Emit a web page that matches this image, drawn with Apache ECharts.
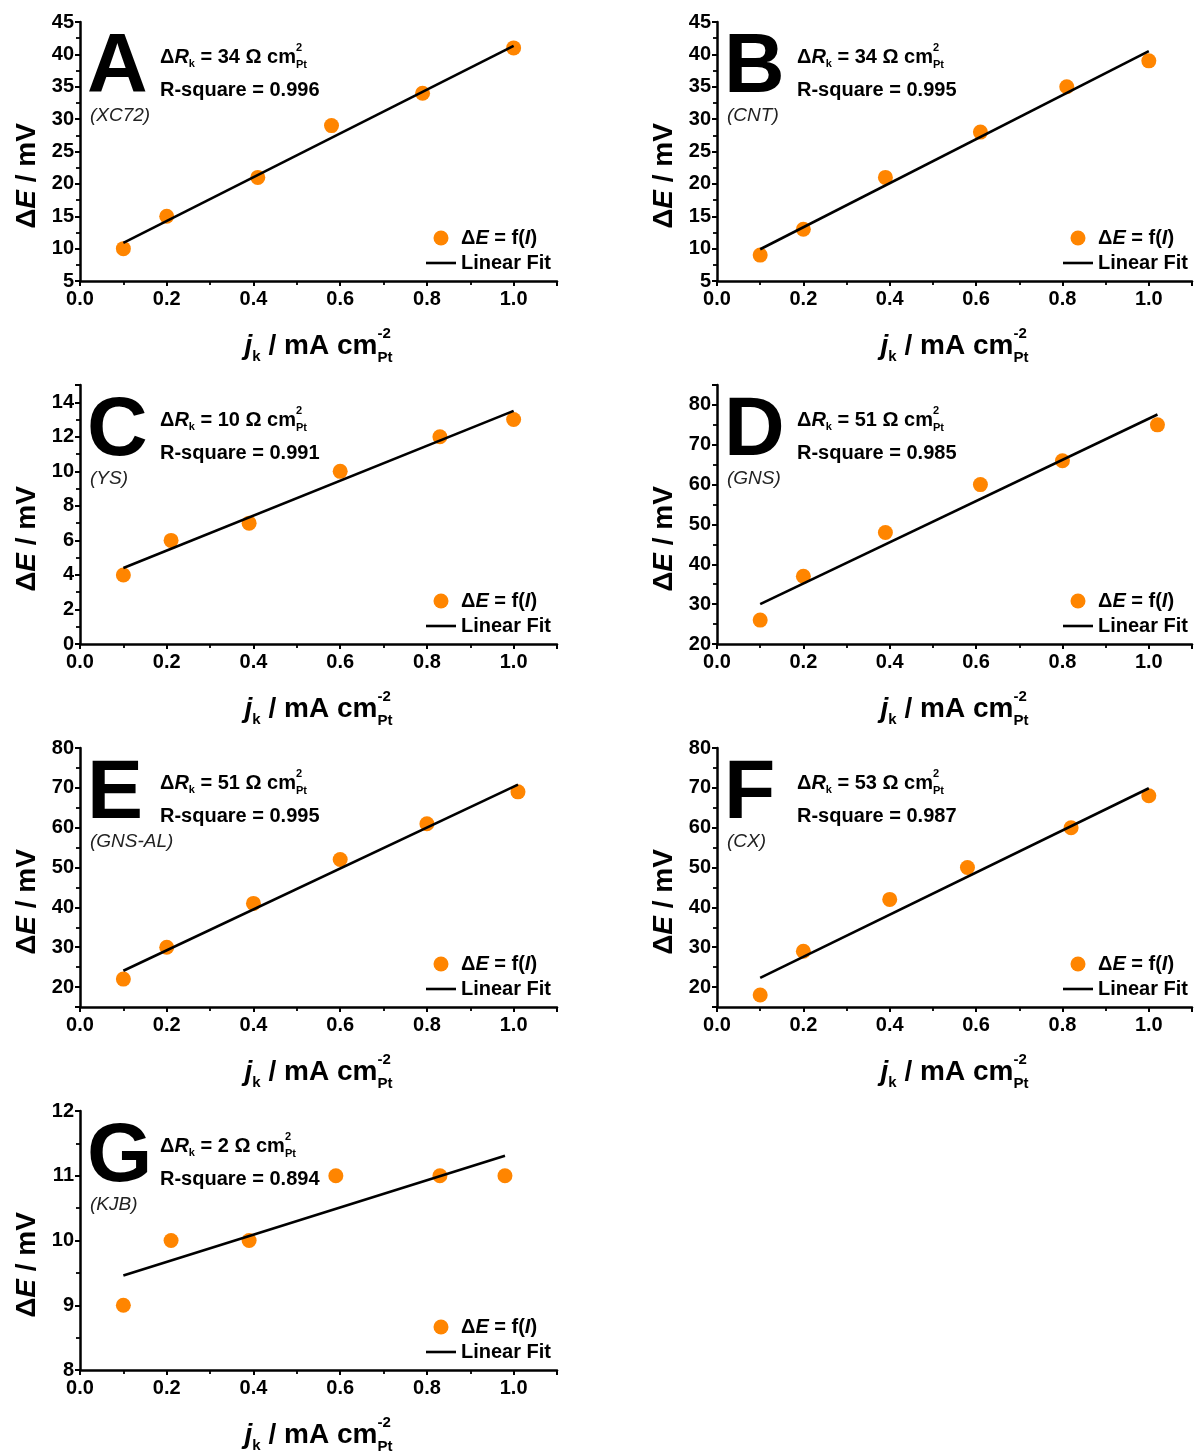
<!DOCTYPE html>
<html><head><meta charset="utf-8">
<script src="https://cdn.jsdelivr.net/npm/echarts@6/dist/echarts.min.js"></script>
<style>html,body{margin:0;padding:0;background:#fff}#c{width:1195px;height:1454px}</style>
</head><body><div id="c"></div>
<script>
// ---------------- data ----------------
const panelLetters = ['A','B','C','D','E','F','G'];
const sampleNames = ['(XC72)','(CNT)','(YS)','(GNS)','(GNS-AL)','(CX)','(KJB)'];
const deltaRk = ['34','34','10','51','51','53','2'];
const rSquare = ['0.996','0.995','0.991','0.985','0.995','0.987','0.894'];

const jkA = [0.1,0.2,0.41,0.58,0.79,1.0];  const dEA = [10,15,21,29,34,41];
const jkB = [0.1,0.2,0.39,0.61,0.81,1.0];  const dEB = [9,13,21,28,35,39];
const jkC = [0.1,0.21,0.39,0.6,0.83,1.0];  const dEC = [4,6,7,10,12,13];
const jkD = [0.1,0.2,0.39,0.61,0.8,1.02];  const dED = [26,37,48,60,66,75];
const jkE = [0.1,0.2,0.4,0.6,0.8,1.01];    const dEE = [22,30,41,52,61,69];
const jkF = [0.1,0.2,0.4,0.58,0.82,1.0];   const dEF = [18,29,42,50,60,68];
const jkG = [0.1,0.21,0.39,0.59,0.83,0.98]; const dEG = [9,10,10,11,11,11];

const fitA = [[0.1,10.9],[1.0,41.3]];
const fitB = [[0.1,9.9],[1.0,40.5]];
const fitC = [[0.1,4.4],[1.0,13.5]];
const fitD = [[0.1,30.0],[1.02,77.6]];
const fitE = [[0.1,24.1],[1.01,70.8]];
const fitF = [[0.1,22.3],[1.0,69.9]];
const fitG = [[0.1,9.46],[0.98,11.31]];

const yMin  = [5,5,0,20,15,15,8];
const yMax  = [45,45,15,85,80,80,12];
const yStep = [5,5,2,10,10,10,1];
const xMin = 0, xMax = 1.1, xStep = 0.2;

const jkAll = [jkA,jkB,jkC,jkD,jkE,jkF,jkG];
const dEAll = [dEA,dEB,dEC,dED,dEE,dEF,dEG];
const fitAll = [fitA,fitB,fitC,fitD,fitE,fitF,fitG];

// ---------------- layout ----------------
const colX = [80, 717], colW = [477, 475];
const rowTop = [22, 385, 748, 1111], gridH = 259;
const FAM = '"Liberation Sans", Arial, Helvetica, sans-serif';
const ORANGE = '#ff8500';

const mctx = document.createElement('canvas').getContext('2d');
function fstr(p){ return (p.italic?'italic ':'') + (p.bold===false?'':'bold ') + p.size + 'px ' + FAM; }
function measure(p){ mctx.font = fstr(p); return mctx.measureText(p.t).width; }
function richLine(x, y, parts, center){
  let total = 0;
  parts.forEach(p => { const items = p.stack || [p]; total += Math.max(...items.map(measure)); });
  let cx = center ? x - total/2 : x;
  const els = [];
  parts.forEach(p => {
    const items = p.stack || [p];
    let adv = 0;
    items.forEach(it => {
      els.push({type:'text', x: cx, y: y + (it.dy||0), z: 100, silent: true,
        style:{text: it.t, fontSize: it.size, fontWeight: it.bold===false?'normal':'bold',
          fontStyle: it.italic?'italic':'normal', fontFamily: FAM, fill:'#000',
          align:'left', verticalAlign:'middle'}});
      adv = Math.max(adv, measure(it));
    });
    cx += adv;
  });
  return els;
}

const grids = [], xAxes = [], yAxes = [], series = [], legends = [], graphics = [];
const richLegend = {
  b:{fontSize:20, fontWeight:'bold', fontFamily:FAM, color:'#000'},
  bi:{fontSize:20, fontWeight:'bold', fontStyle:'italic', fontFamily:FAM, color:'#000'}
};

panelLetters.forEach((L, i) => {
  const row = Math.floor(i/2), col = i % 2;
  const x0 = colX[col], w = colW[col], top = rowTop[row];
  grids.push({left: x0, top: top, width: w, height: gridH, containLabel: false});
  xAxes.push({
    type:'value', gridIndex:i, min:xMin, max:xMax, interval:xStep,
    axisLine:{show:true, onZero:false, lineStyle:{color:'#000', width:2.5}},
    axisTick:{show:true, length:5, lineStyle:{color:'#000', width:2}},
    minorTick:{show:true, splitNumber:2, length:4, lineStyle:{color:'#000', width:1.8}},
    splitLine:{show:false},
    axisLabel:{margin:8, fontSize:20, fontWeight:'bold', fontFamily:FAM, color:'#000',
      showMaxLabel:false,
      formatter: v => (Math.abs(v/xStep - Math.round(v/xStep)) < 1e-6) ? v.toFixed(1) : ''}
  });
  const ya = {
    type:'value', gridIndex:i, min:yMin[i], max:yMax[i],
    axisLine:{show:true, onZero:false, lineStyle:{color:'#000', width:2.5}},
    axisTick:{show:true, length:5, lineStyle:{color:'#000', width:2}},
    minorTick:{show:true, splitNumber:2, length:4, lineStyle:{color:'#000', width:1.8}},
    splitLine:{show:false},
    axisLabel:{margin:6, fontSize:20, fontWeight:'bold', fontFamily:FAM, color:'#000',
      formatter: v => (Math.abs(v/yStep[i] - Math.round(v/yStep[i])) < 1e-6) ? String(Math.round(v)) : ''}
  };
  if (yMin[i] % yStep[i] === 0) ya.interval = yStep[i]; else ya.splitNumber = 6;
  yAxes.push(ya);

  series.push({
    name:'pts'+i, type:'scatter', xAxisIndex:i, yAxisIndex:i, z:2,
    symbol:'circle', symbolSize:15, itemStyle:{color:ORANGE, opacity:1},
    data: jkAll[i].map((x,k) => [x, dEAll[i][k]])
  });
  series.push({
    name:'fit'+i, type:'line', xAxisIndex:i, yAxisIndex:i, z:3,
    symbol:'none', showSymbol:false, lineStyle:{color:'#000', width:2.6}, itemStyle:{color:'#000'},
    data: fitAll[i]
  });
  legends.push({
    orient:'vertical', left: x0 + 341, top: top + 201, itemWidth:30, itemHeight:15, itemGap:5,
    selectedMode:false,
    data:[{name:'pts'+i, icon:'circle', itemStyle:{color:ORANGE, opacity:1}},
          {name:'fit'+i, icon:'path://M0,0L30,0L30,2.6L0,2.6Z', itemStyle:{color:'#000'}}],
    formatter: n => n.startsWith('pts') ? '{b|Δ}{bi|E}{b| = f(}{bi|I}{b|)}' : '{b|Linear Fit}',
    textStyle:{rich: richLegend}
  });

  graphics.push({type:'text', x: x0 + 7, y: top + 47, z:100, silent:true,
    style:{text:L, fontSize:84, fontWeight:'bold', fontFamily:FAM, fill:'#000', align:'left', verticalAlign:'middle'}});
  graphics.push({type:'text', x: x0 + 10, y: top + 94, z:100, silent:true,
    style:{text:sampleNames[i], fontSize:19, fontStyle:'italic', fontFamily:FAM, fill:'#222', align:'left', verticalAlign:'middle'}});
  graphics.push(...richLine(x0 + 80, top + 35, [
    {t:'Δ', size:20}, {t:'R', size:20, italic:true}, {t:'k', size:11, dy:7},
    {t:' = ' + deltaRk[i] + ' Ω cm', size:20},
    {stack:[{t:'2', size:11, dy:-9}, {t:'Pt', size:11, dy:8}]}
  ]));
  graphics.push({type:'text', x: x0 + 80, y: top + 68, z:100, silent:true,
    style:{text:'R-square = ' + rSquare[i], fontSize:20, fontWeight:'bold', fontFamily:FAM, fill:'#000', align:'left', verticalAlign:'middle'}});
  graphics.push(...richLine(x0 + w/2, top + 324, [
    {t:'j', size:28, italic:true}, {t:'k', size:15, dy:11},
    {t:' / mA cm', size:28},
    {stack:[{t:'-2', size:15, dy:-12}, {t:'Pt', size:15, dy:12}]}
  ], true));
  graphics.push({type:'text', x: x0 - 53, y: top + 154, rotation: Math.PI/2, z:100, silent:true,
    style:{text:'{b|Δ}{bi|E}{b| / mV}', align:'center', verticalAlign:'middle',
      rich:{b:{fontSize:28, fontWeight:'bold', fontFamily:FAM, fill:'#000'},
            bi:{fontSize:28, fontWeight:'bold', fontStyle:'italic', fontFamily:FAM, fill:'#000'}}}});
});

const chart = echarts.init(document.getElementById('c'), null, {renderer:'canvas'});
chart.setOption({
  backgroundColor:'#fff', animation:false,
  grid: grids, xAxis: xAxes, yAxis: yAxes, series: series, legend: legends,
  graphic: {elements: graphics}
});
</script></body></html>
